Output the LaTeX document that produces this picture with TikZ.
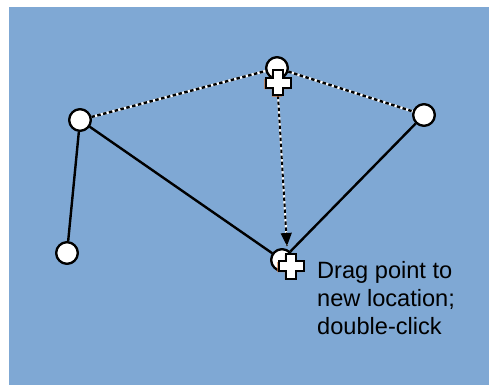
\documentclass[tikz,border=0pt]{standalone}
\usepackage{fontspec}
\setmainfont{Liberation Sans}
\usetikzlibrary{arrows.meta,calc}
\definecolor{bgblue}{RGB}{127,168,212}
\definecolor{shadoworange}{RGB}{214,120,60}
\tikzset{
  vertex/.style={circle, draw=black, fill=white, line width=2.2pt, minimum size=21.5pt, inner sep=0pt},
  solidedge/.style={draw=black, line width=2.4pt},
  dotedge/.style={draw=white, line width=2.4pt, postaction={draw=black, line width=2.4pt, dash pattern=on 3.5pt off 2.5pt}},
  moveedge/.style={draw=white, line width=2pt, postaction={draw=black, line width=2pt, dash pattern=on 3.5pt off 2.5pt}},
  plusicon/.style={minimum size=25pt, inner sep=0pt},
  label/.style={font=\fontsize{23.6}{28}\selectfont, align=left, inner sep=0pt, anchor=north west}
}
\newcommand{\drawplus}[1]{%
  \fill[shadoworange] (#1) ++(-1.2,1.2) +(-5,-12.5) -- +(5,-12.5) -- +(5,-5) -- +(12.5,-5) -- +(12.5,5) -- +(5,5) -- +(5,12.5) -- +(-5,12.5) -- +(-5,5) -- +(-12.5,5) -- +(-12.5,-5) -- +(-5,-5) -- cycle;
  \filldraw[fill=white, draw=black, line width=2pt, line join=miter] (#1) +(-5,-12.5) -- +(5,-12.5) -- +(5,-5) -- +(12.5,-5) -- +(12.5,5) -- +(5,5) -- +(5,12.5) -- +(-5,12.5) -- +(-5,5) -- +(-12.5,5) -- +(-12.5,-5) -- +(-5,-5) -- cycle;}
\begin{document}
\begin{tikzpicture}[x=1pt, y=-1pt]
\useasboundingbox (0,0) rectangle (489,385);
\fill[bgblue] (9,7) rectangle (489,385);

% vertices
\node[vertex] (top) at (277,68) {};
\node[vertex] (left) at (80,120) {};
\node[vertex] (right) at (424,115) {};
\node[vertex] (bl) at (67,253) {};
\node[vertex] (bot) at (282,260) {};

% edges
\draw[solidedge] (left) -- (bl);
\draw[solidedge] (left) -- (bot);
\draw[solidedge] (right) -- (bot);
\path[dotedge] (left) -- (top);
\path[dotedge] (top) -- (right);

% redraw vertices on top
\node[vertex] at (top) {};
\node[vertex] at (left) {};
\node[vertex] at (right) {};
\node[vertex] at (bl) {};
\node[vertex] at (bot) {};

% plus icons
\node[plusicon] (p1) at (278,83) {};
\node[plusicon] (p2) at (291,266) {};
\coordinate (tip) at (287,246);
\path[moveedge] (p1.south) -- (tip);
\draw[black, line width=1.2pt, -{Triangle[length=13pt, width=11pt]}] ($(tip)!13.5pt!(p1.south)$) -- (tip);
\drawplus{p1}
\drawplus{p2}

\node[label] (txt) at (317,261) {Drag point to\\new location;\\double-click};
\end{tikzpicture}
\end{document}
